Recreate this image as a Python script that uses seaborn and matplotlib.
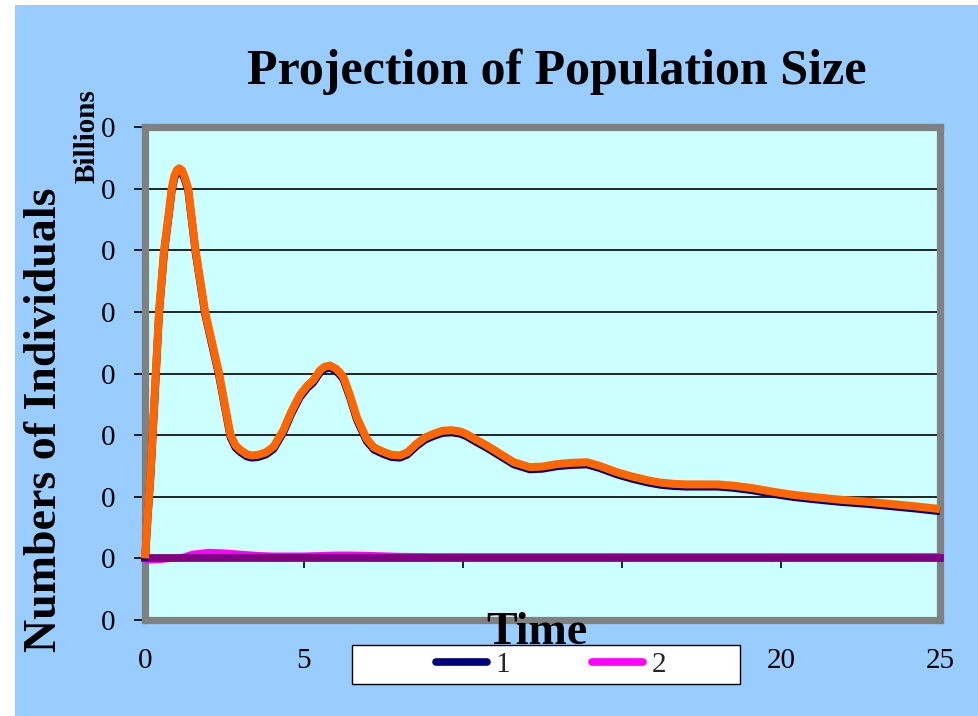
import numpy as np
import pandas as pd
import seaborn as sns
import matplotlib
matplotlib.use("Agg")
import matplotlib.pyplot as plt
import matplotlib.transforms as mtransforms
from matplotlib.patches import Rectangle
from matplotlib.lines import Line2D

# ---------------- data ----------------
orange_x = [0, 0.09, 0.18, 0.34, 0.44, 0.60, 0.76, 0.84, 0.92, 1.0, 1.08, 1.16, 1.24, 1.36,
            1.59, 1.89, 2.10, 2.33, 2.50, 2.69, 2.85, 3.0, 3.2, 3.36, 3.55, 3.8, 4.04,
            4.35, 4.6, 4.87, 5.1, 5.29, 5.5, 5.65, 5.82, 6.0, 6.12, 6.24, 6.45, 6.66,
            6.97, 7.2, 7.49, 7.75, 8.02, 8.25, 8.54, 8.8, 9.07, 9.35, 9.64, 9.9, 10.1,
            10.4, 10.75, 11.16, 11.6, 12.1, 12.5, 12.95, 13.4, 13.9, 14.3, 14.83, 15.3,
            15.78, 16.2, 16.6, 17.0, 17.45, 18.0, 18.5, 19.1, 19.76, 20.4, 21.12, 21.9,
            22.69, 23.5, 24.3, 25]
orange_y = [0, 0.75, 1.43, 3.0, 4.0, 5.0, 5.65, 6.0, 6.20, 6.30, 6.33, 6.30, 6.20, 6.0,
            5.0, 4.0, 3.52, 3.0, 2.52, 2.0, 1.83, 1.76, 1.69, 1.67, 1.68, 1.72, 1.81,
            2.08, 2.38, 2.65, 2.80, 2.89, 3.05, 3.11, 3.13, 3.08, 3.02, 2.94, 2.64, 2.29,
            1.94, 1.80, 1.73, 1.68, 1.67, 1.72, 1.86, 1.96, 2.02, 2.07, 2.08, 2.06, 2.02,
            1.93, 1.83, 1.70, 1.56, 1.48, 1.49, 1.53, 1.55, 1.56, 1.50, 1.40, 1.33,
            1.27, 1.23, 1.21, 1.20, 1.20, 1.20, 1.18, 1.14, 1.08, 1.03, 0.99, 0.95,
            0.92, 0.88, 0.84, 0.80]

magenta_x = [0, 0.5, 1.0, 1.5, 2.0, 2.5, 3.0, 3.5, 4.0, 5.0, 6.0, 6.5, 7.0, 8.0, 9.0,
             12, 15, 18, 21, 25]
magenta_y = [-0.04, -0.03, 0.0, 0.08, 0.11, 0.10, 0.08, 0.06, 0.05, 0.05, 0.065, 0.065,
             0.06, 0.045, 0.04, 0.04, 0.04, 0.04, 0.04, 0.04]

purple_x = [0, 5, 10, 15, 20, 25]
purple_y = [0, 0, 0, 0, 0, 0]

x_ticks = [0, 5, 10, 15, 20, 25]
y_ticks = [-1, 0, 1, 2, 3, 4, 5, 6, 7]
y_tick_labels = ["0"] * len(y_ticks)
legend_labels = ["1", "2"]

title = "Projection of Population Size"
ylabel = "Numbers of Individuals"
unit_label = "Billions"
xlabel = "Time"

# ---------------- styling ----------------
W, H = 979, 716
BG = "#99CCFF"
PLOT_BG = "#CCFFFF"
NAVY = "#000080"
MAGENTA = "#FF00FF"
PURPLE = "#800080"
ORANGE = "#FF6600"
GRAY = "#808080"

sns.set_theme(style="white")
plt.rcParams["font.family"] = ["Liberation Serif", "DejaVu Serif"]

fig = plt.figure(figsize=(W / 100, H / 100), dpi=100, facecolor="white")


def fx(px):
    return px / W


def fy(py):
    return 1 - py / H


# blue background (white strip at left/top as in reference)
fig.add_artist(Rectangle((fx(15), 0), 1 - fx(15), fy(5), transform=fig.transFigure,
                         facecolor=BG, edgecolor="none", zorder=-10))

ax = fig.add_axes([fx(145), fy(620), fx(940) - fx(145), fy(127) - fy(620)])
ax.set_facecolor(PLOT_BG)

df_o = pd.DataFrame({"x": orange_x, "y": orange_y})
df_m = pd.DataFrame({"x": magenta_x, "y": magenta_y})
df_p = pd.DataFrame({"x": purple_x, "y": purple_y})

# series 2 (magenta)
sns.lineplot(data=df_m, x="x", y="y", ax=ax, color=MAGENTA, linewidth=4.0,
             sort=False, estimator=None, zorder=3)
ax.lines[-1].set_solid_joinstyle("round")
# purple baseline series
sns.lineplot(data=df_p, x="x", y="y", ax=ax, color=PURPLE, linewidth=5.6,
             sort=False, estimator=None, zorder=4)
ax.lines[-1].set_solid_capstyle("projecting")
ax.lines[-1].set_clip_on(False)
# series 1 (navy), slightly below the orange overlay
sns.lineplot(data=df_o, x="x", y="y", ax=ax, color=NAVY, linewidth=5.6,
             sort=False, estimator=None, zorder=5)
ln = ax.lines[-1]
ln.set_transform(ax.transData + mtransforms.ScaledTranslation(0, -1.6 / 72, fig.dpi_scale_trans))
ln.set_clip_on(False)
ln.set_solid_joinstyle("round")
ln.set_solid_capstyle("butt")
# orange overlay
sns.lineplot(data=df_o, x="x", y="y", ax=ax, color=ORANGE, linewidth=5.8,
             sort=False, estimator=None, zorder=6)
ln = ax.lines[-1]
ln.set_clip_on(False)
ln.set_solid_capstyle("butt")
ln.set_solid_joinstyle("round")

ax.set_xlim(0, 25)
ax.set_ylim(-1, 7)
ax.set_xlabel("")
ax.set_ylabel("")

# y axis
ax.set_yticks(y_ticks)
ax.set_yticklabels(y_tick_labels)
ax.tick_params(axis="y", direction="out", length=8, width=1.2, color="black",
               pad=13, labelsize=21, labelcolor="black", left=True)
ax.yaxis.grid(True, color="black", linewidth=1.2)
ax.xaxis.grid(False)

# x labels at bottom, tick marks on the zero line
ax.set_xticks(x_ticks)
ax.set_xticklabels([str(t) for t in x_ticks])
ax.tick_params(axis="x", length=0, pad=20, labelsize=21, labelcolor="black")
sec = ax.secondary_xaxis(1 / 8)
sec.set_xticks(x_ticks)
sec.tick_params(axis="x", direction="out", length=7, width=1.2, color="black",
                labelbottom=False, labeltop=False, bottom=True)
for s in sec.spines.values():
    s.set_visible(False)

for s in ax.spines.values():
    s.set_visible(True)
    s.set_color(GRAY)
    s.set_linewidth(5.2)

# texts
fig.text(fx(557), fy(72), title, ha="center", va="center", fontsize=36,
         fontweight="bold", color="black")
fig.text(fx(45), fy(420), ylabel, ha="center", va="center", rotation=90,
         fontsize=33, fontweight="bold", color="black")
fig.text(fx(87), fy(136), unit_label, ha="center", va="center", rotation=90,
         fontsize=21, fontweight="bold", color="black")

# legend box
fig.add_artist(Rectangle((fx(352), fy(684)), fx(740) - fx(352), fy(645) - fy(684),
                         transform=fig.transFigure, facecolor="white",
                         edgecolor="black", linewidth=1.0, zorder=3))
handles = [Line2D([0], [0], color=NAVY, lw=5.5, solid_capstyle="round"),
           Line2D([0], [0], color=MAGENTA, lw=5.5, solid_capstyle="round")]
leg = fig.legend(handles, legend_labels, loc="center", bbox_to_anchor=(fx(551), fy(665)),
                 ncol=2, frameon=False, fontsize=21, handlelength=1.75,
                 handletextpad=0.3, columnspacing=2.8, borderpad=0.1)
leg.set_zorder(5)

fig.text(fx(537), fy(633), xlabel, ha="center", va="center", fontsize=33,
         fontweight="bold", color="black", zorder=6)

fig.savefig("out.png", dpi=100, facecolor=fig.get_facecolor())
